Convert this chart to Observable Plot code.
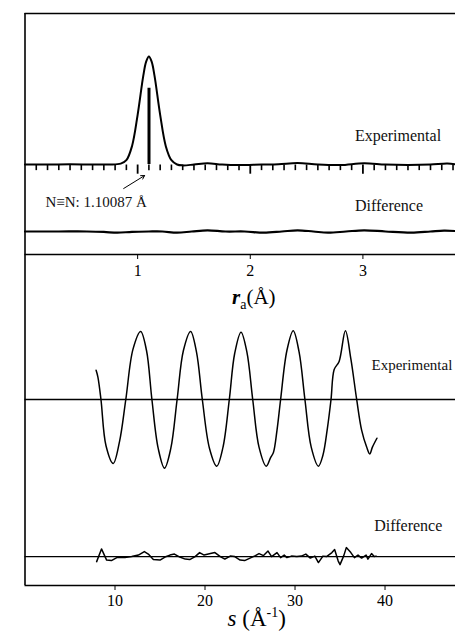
<!DOCTYPE html>
<html><head><meta charset="utf-8">
<script src="https://cdn.jsdelivr.net/npm/d3@7"></script>
<script src="https://cdn.jsdelivr.net/npm/@observablehq/plot@0.6"></script>
<style>
body{margin:0;background:#fff;}
#chart{width:455px;height:632px;overflow:hidden;}
#chart svg{display:block;}
</style></head><body><div id="chart"></div>
<script>
// ---- Top panel: radial distribution curve f(r) ----
const rExp = [0, 0.2, 0.4, 0.6, 0.75, 0.85, 0.9, 0.95, 1.0, 1.05, 1.075, 1.1, 1.125, 1.15, 1.2, 1.25, 1.3, 1.35, 1.4, 1.5, 1.62, 1.75, 1.9, 2.1, 2.25, 2.42, 2.6, 2.8, 3.01, 3.2, 3.4, 3.6, 3.75, 3.83];
const fExp = [0, 0, 0.002, 0, 0, 0.008, 0.04, 0.17, 0.46, 0.82, 0.95, 1.0, 0.95, 0.82, 0.46, 0.17, 0.04, 0.0, -0.008, 0, 0.012, 0, -0.005, 0, 0.003, 0.014, 0, -0.005, 0.012, 0, -0.004, 0, 0.01, 0];
const rDiff = [0, 0.3, 0.55, 0.7, 0.82, 0.95, 1.1, 1.22, 1.35, 1.48, 1.62, 1.78, 1.95, 2.12, 2.28, 2.42, 2.56, 2.69, 2.85, 3.01, 3.2, 3.43, 3.6, 3.72, 3.83];
const fDiff = [0, 0, 0, -0.004, -0.011, -0.003, 0, 0, -0.011, 0, 0.011, 0, 0, -0.011, 0, 0.011, 0, -0.011, 0, 0.011, 0, -0.011, 0, 0.008, 0.004];
const bondR = [1.10087];
const bondHeight = 0.706;
const rTicks = [1, 2, 3];
const rMinorTicks = [0.1,0.2,0.3,0.4,0.5,0.6,0.7,0.8,0.9,1.1,1.2,1.3,1.4,1.5,1.6,1.7,1.8,1.9,2.1,2.2,2.3,2.4,2.5,2.6,2.7,2.8,2.9,3.1,3.2,3.3,3.4,3.5,3.6,3.7,3.8];
const topLabels = ["Experimental", "Difference"];
const bondLabel = "N≡N: 1.10087 Å";

// ---- Bottom panel: molecular intensity sM(s) ----
const sExp = [7.9, 8.1, 8.44, 9.0, 9.8, 10.5, 11.2, 12.0, 12.85, 13.5, 14.1, 14.8, 15.5, 16.2, 16.9, 17.6, 18.4, 19.05, 19.7, 20.5, 21.3, 22.0, 22.7, 23.3, 24.0, 24.65, 25.3, 26.0, 26.8, 27.3, 27.6, 28.0, 28.4, 29.1, 29.8, 30.45, 31.1, 31.8, 32.6, 33.1, 33.6, 34.0, 34.35, 34.9, 35.6, 36.2, 36.85, 37.4, 37.96, 38.3, 38.6, 39.1];
const mExp = [0.43, 0.33, 0, -0.68, -0.94, -0.62, 0, 0.74, 1.0, 0.72, 0, -0.72, -1.01, -0.72, 0, 0.72, 1.0, 0.7, 0, -0.72, -0.98, -0.7, 0, 0.68, 0.99, 0.7, 0, -0.7, -0.98, -0.85, -0.78, -0.45, 0, 0.72, 1.01, 0.7, 0, -0.7, -0.98, -0.82, -0.42, 0, 0.44, 0.56, 1.01, 0.6, 0, -0.45, -0.7, -0.8, -0.7, -0.57];
const sDiff = [7.96, 8.5, 9.07, 9.6, 10.2, 11.1, 11.85, 12.6, 13.26, 13.7, 14.26, 15.0, 15.55, 16.1, 16.6, 17.2, 17.8, 18.3, 18.9, 19.4, 19.9, 20.6, 21.1, 21.7, 22.2, 22.8, 23.3, 23.9, 24.4, 25.0, 25.6, 26.0, 26.5, 27.0, 27.4, 28.0, 28.4, 28.8, 29.1, 29.6, 30.2, 30.7, 31.2, 31.7, 32.2, 32.6, 33.1, 33.5, 34.1, 34.4, 34.8, 35.0, 35.4, 35.7, 36.2, 36.6, 37.0, 37.4, 37.9, 38.1, 38.5, 38.8, 39.0];
const mDiff = [-0.074, 0.113, -0.051, -0.059, -0.015, -0.015, 0, 0.022, 0.074, 0.037, -0.044, -0.051, -0.007, 0.022, 0.037, -0.007, -0.037, -0.044, 0, 0.059, 0.022, 0.044, 0.059, 0, -0.037, 0.007, 0, -0.051, -0.059, -0.022, 0.015, 0.044, 0.015, 0.081, 0, 0.059, -0.015, 0.022, -0.015, 0.007, 0, 0.007, 0.037, -0.022, 0.007, -0.088, 0.007, 0, 0.059, 0.103, -0.066, -0.118, 0.007, 0.132, 0.059, -0.015, 0.022, -0.022, 0.022, -0.037, 0.044, 0, 0.007];
const sTicks = [10, 20, 30, 40];
const bottomLabels = ["Experimental", "Difference"];

// ---- layout constants ----
const FONT = "'Liberation Serif', 'Times New Roman', serif";
const topDiffOffset = -0.62, topYMin = -0.833, topYMax = 1.398, topFrameEnd = -1.37;
const botDiffOffset = -2.31, botYMin = -2.735, botYMax = 1.279;

const topData = rExp.map((r, i) => ({r, f: fExp[i]}));
const topDiffData = rDiff.map((r, i) => ({r, f: fDiff[i] + topDiffOffset}));
const botData = sExp.map((s, i) => ({s, m: mExp[i]}));
const botDiffData = sDiff.map((s, i) => ({s, m: mDiff[i] + botDiffOffset}));
const minorTickData = rMinorTicks.map(r => ({r, a: 0, b: -0.052}));
const majorTickData = rTicks.map(r => ({r, a: 0, b: -0.085}));

const topPlot = Plot.plot({
  width: 455, height: 312,
  marginLeft: 24.5, marginRight: 0, marginTop: 13, marginBottom: 58,
  style: {fontFamily: FONT, fontSize: "16px", color: "#000", background: "#fff", overflow: "hidden"},
  x: {domain: [0, 3.822], ticks: rTicks, tickFormat: d => String(d), tickSize: 5, tickPadding: 5, label: null},
  y: {domain: [topYMin, topYMax], axis: null},
  marks: [
    Plot.ruleX([0], {y1: topFrameEnd, y2: topYMax, strokeWidth: 1.6}),
    Plot.ruleY([topYMax], {strokeWidth: 1.6}),
    Plot.ruleY([topYMin], {strokeWidth: 1.6}),
    Plot.line(topData, {x: "r", y: "f", curve: "catmull-rom", strokeWidth: 2}),
    Plot.link(minorTickData, {x1: "r", x2: "r", y1: "a", y2: "b", stroke: "#000", strokeWidth: 1.6}),
    Plot.link(majorTickData, {x1: "r", x2: "r", y1: "a", y2: "b", stroke: "#000", strokeWidth: 1.8}),
    Plot.ruleX(bondR, {y1: 0, y2: bondHeight, strokeWidth: 3}),
    Plot.line(topDiffData, {x: "r", y: "f", curve: "catmull-rom", strokeWidth: 2.2}),
    Plot.arrow([{x1: 0.876, y1: -0.222, x2: 1.062, y2: -0.102}], {x1: "x1", y1: "y1", x2: "x2", y2: "y2", strokeWidth: 1, headLength: 6}),
    Plot.text([{r: 2.929, y: 0.269, t: topLabels[0]}, {r: 2.929, y: -0.38, t: topLabels[1]}], {x: "r", y: "y", text: "t", textAnchor: "start", fontSize: 16, fill: "#111"}),
    Plot.text([{r: 0.182, y: -0.352, t: bondLabel}], {x: "r", y: "y", text: "t", textAnchor: "start", fontSize: 15, fill: "#111"})
  ]
});

const botPlot = Plot.plot({
  width: 455, height: 320,
  marginLeft: 24.5, marginRight: 0, marginTop: 0, marginBottom: 47,
  style: {fontFamily: FONT, fontSize: "16px", color: "#000", background: "#fff", overflow: "hidden"},
  x: {domain: [0, 47.83], ticks: sTicks, tickFormat: d => String(d), tickSize: 5, tickPadding: 4, label: null},
  y: {domain: [botYMin, botYMax], axis: null},
  marks: [
    Plot.ruleX([0], {y1: botYMin, y2: botYMax, strokeWidth: 1.6}),
    Plot.ruleY([botYMin], {strokeWidth: 1.6}),
    Plot.ruleY([0], {strokeWidth: 1.4}),
    Plot.ruleY([botDiffOffset], {strokeWidth: 1.4}),
    Plot.line(botData, {x: "s", y: "m", curve: "catmull-rom", strokeWidth: 1.5}),
    Plot.line(botDiffData, {x: "s", y: "m", curve: "linear", strokeWidth: 1.5}),
    Plot.text([{s: 38.5, y: 0.5, t: bottomLabels[0]}], {x: "s", y: "y", text: "t", textAnchor: "start", fontSize: 15, fill: "#111"}),
    Plot.text([{s: 38.8, y: -1.853, t: bottomLabels[1]}], {x: "s", y: "y", text: "t", textAnchor: "start", fontSize: 16, fill: "#111"})
  ]
});

// axis titles with sub/superscripts
{
  const xs = topPlot.scale("x");
  const t = d3.select(topPlot).append("text")
    .attr("x", xs.apply(2) + 4).attr("y", 304)
    .attr("text-anchor", "middle").attr("fill", "#000")
    .style("font-family", FONT).style("font-size", "21px");
  t.append("tspan").attr("font-weight", "bold").attr("font-style", "italic").text("r");
  t.append("tspan").attr("font-size", "14px").attr("dy", 5).text("a");
  t.append("tspan").attr("dy", -5).text("(Å)");
}
{
  const xs = botPlot.scale("x");
  const t = d3.select(botPlot).append("text")
    .attr("x", xs.apply(25.8)).attr("y", 314)
    .attr("text-anchor", "middle").attr("fill", "#000")
    .style("font-family", FONT).style("font-size", "23px");
  t.append("tspan").attr("font-style", "italic").text("s");
  t.append("tspan").text(" (Å");
  t.append("tspan").attr("font-size", "14px").attr("dy", -9).text("-1");
  t.append("tspan").attr("dy", 9).text(")");
}

const root = document.getElementById("chart");
root.appendChild(topPlot);
root.appendChild(botPlot);
</script></body></html>
